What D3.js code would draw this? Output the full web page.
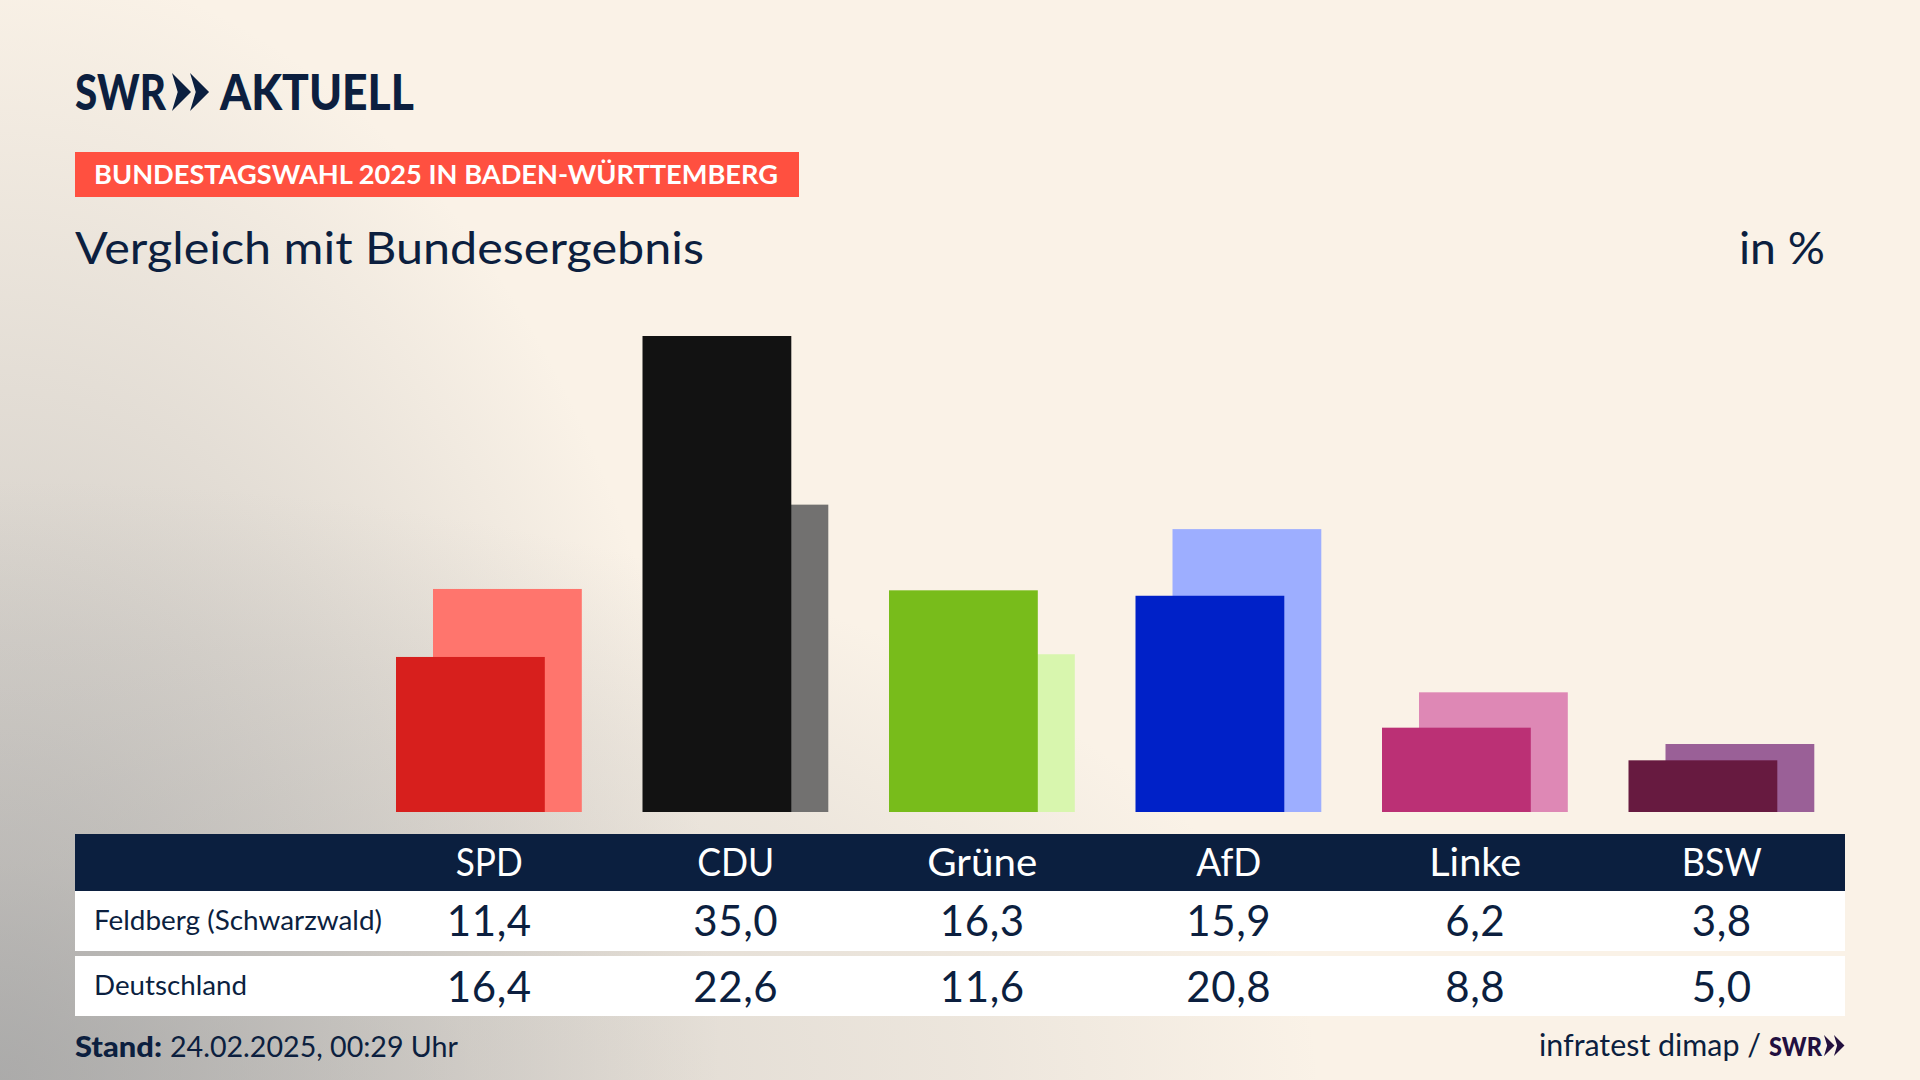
<!DOCTYPE html>
<html>
<head>
<meta charset="utf-8">
<script src="https://cdn.jsdelivr.net/npm/d3@7"></script>
<style>
  body { margin: 0; background: #faf2e7; }
  svg { display: block; }
  text { font-family: Lato, "Noto Sans", sans-serif; fill: #0c1f3f; }
</style>
</head>
<body>
<div id="chart"></div>
<script>
// data
var parties = ["SPD", "CDU", "Grüne", "AfD", "Linke", "BSW"];
var feldberg = [11.4, 35.0, 16.3, 15.9, 6.2, 3.8];
var deutschland = [16.4, 22.6, 11.6, 20.8, 8.8, 5.0];
var rowLabels = ["Feldberg (Schwarzwald)", "Deutschland"];
var frontColors = ["#d71f1d", "#121212", "#78bc1b", "#0021c8", "#bb3075", "#671a40"];
var backColors = ["#ff756d", "#727170", "#d8f6ae", "#9daeff", "#de88b5", "#9a6097"];

var svgWidth = 1920;
var svgHeight = 1080;
var navy = "#0b1f3f";

// header text widths
var headerWidths = [67, 77, 110, 65, 92, 80];

var svg = d3.select("#chart").append("svg")
  .attr("width", svgWidth)
  .attr("height", svgHeight);

// background, two gray glows out of the lower left corner
var defs = svg.append("defs");
function glow(id, rx, ry, stops) {
  var g = defs.append("radialGradient")
    .attr("id", id)
    .attr("gradientUnits", "userSpaceOnUse")
    .attr("cx", 0).attr("cy", 0).attr("r", 1)
    .attr("gradientTransform", "translate(0,1080) scale(" + rx + "," + ry + ")");
  stops.forEach(function(s) {
    g.append("stop")
      .attr("offset", s[0])
      .attr("stop-color", "#a4a4a4")
      .attr("stop-opacity", s[1]);
  });
  svg.append("rect")
    .attr("width", svgWidth).attr("height", svgHeight)
    .attr("fill", "url(#" + id + ")");
}
svg.append("rect").attr("width", svgWidth).attr("height", svgHeight).attr("fill", "#faf2e7");
glow("glowTall", 720, 1120, [[0, 0.72], [0.35, 0.45], [0.6, 0.28], [0.84, 0.11], [1, 0]]);
glow("glowWide", 1320, 600, [[0, 0.7], [0.36, 0.33], [0.73, 0.16], [1, 0]]);

// scales
var x = d3.scaleBand().domain(parties).range([366, 1845]);
var y = d3.scaleLinear().domain([0, 35]).range([812, 336]);
var barWidth = 148.8;
var barShift = 37;
var groupLeft = 30;

// text helper, squeezes the font to the width in the picture
function label(px, py, str, size, width, opts) {
  opts = opts || {};
  var t = svg.append("text")
    .attr("x", px).attr("y", py)
    .attr("font-size", size)
    .attr("font-weight", opts.weight || 400)
    .attr("text-anchor", opts.anchor || "start")
    .text(str);
  if (width) t.attr("textLength", width).attr("lengthAdjust", "spacingAndGlyphs");
  if (opts.fill) t.style("fill", opts.fill);
  return t;
}

function chevrons(px, py, h, fill) {
  var w = h * 0.5;
  var path = d3.path();
  [0, w * 0.95].forEach(function(dx) {
    path.moveTo(px + dx, py);
    path.lineTo(px + dx + w, py + h / 2);
    path.lineTo(px + dx, py + h);
    path.lineTo(px + dx + w * 0.3, py + h / 2);
    path.closePath();
  });
  svg.append("path").attr("d", path.toString()).attr("fill", fill);
}

// logo
label(75, 110, "SWR", 49, 91, {weight: 900});
chevrons(172, 73, 38, navy);
label(220, 110, "AKTUELL", 49, 194, {weight: 900});

// tag
svg.append("rect").attr("x", 75).attr("y", 152).attr("width", 724).attr("height", 45).attr("fill", "#ff5040");
label(94, 184, "BUNDESTAGSWAHL 2025 IN BADEN-WÜRTTEMBERG", 27, 684, {weight: 700, fill: "#fff"});

// title
label(75, 264, "Vergleich mit Bundesergebnis", 45, 629);
label(1739, 264, "in %", 45, 86);

// bars, Deutschland behind
svg.append("g").selectAll("rect")
  .data(parties)
  .enter()
  .append("rect")
  .attr("x", function(d) { return x(d) + groupLeft + barShift; })
  .attr("y", function(d, i) { return y(deutschland[i]); })
  .attr("width", barWidth)
  .attr("height", function(d, i) { return y(0) - y(deutschland[i]); })
  .attr("fill", function(d, i) { return backColors[i]; });

svg.append("g").selectAll("rect")
  .data(parties)
  .enter()
  .append("rect")
  .attr("x", function(d) { return x(d) + groupLeft; })
  .attr("y", function(d, i) { return y(feldberg[i]); })
  .attr("width", barWidth)
  .attr("height", function(d, i) { return y(0) - y(feldberg[i]); })
  .attr("fill", function(d, i) { return frontColors[i]; });

// table
var tableLeft = 75;
var tableWidth = 1770;
var fmt = d3.formatLocale({decimal: ",", thousands: ".", grouping: [3], currency: ["", "€"]}).format(".1f");

svg.append("rect").attr("x", tableLeft).attr("y", 834).attr("width", tableWidth).attr("height", 57).attr("fill", navy);
svg.append("rect").attr("x", tableLeft).attr("y", 891).attr("width", tableWidth).attr("height", 60).attr("fill", "#fff");
svg.append("rect").attr("x", tableLeft).attr("y", 956).attr("width", tableWidth).attr("height", 60).attr("fill", "#fff");

parties.forEach(function(p, i) {
  var cx = x(p) + x.bandwidth() / 2;
  label(cx, 876, p, 38, headerWidths[i], {anchor: "middle", fill: "#fff"});
  label(cx, 936, fmt(feldberg[i]), 42, null, {anchor: "middle"}).attr("letter-spacing", 0.6);
  label(cx, 1002, fmt(deutschland[i]), 42, null, {anchor: "middle"}).attr("letter-spacing", 0.6);
});
label(94, 930, rowLabels[0], 26, 288);
label(94, 995, rowLabels[1], 26, 153);

// footer
label(75, 1057, "Stand:", 28, 87, {weight: 900});
label(170, 1057, "24.02.2025, 00:29 Uhr", 28, 288);
label(1539, 1056, "infratest dimap /", 30, 222);
label(1769, 1056, "SWR", 27, 53, {weight: 900, fill: "#22103f"});
chevrons(1824, 1035, 21, "#22103f");
</script>
</body>
</html>
